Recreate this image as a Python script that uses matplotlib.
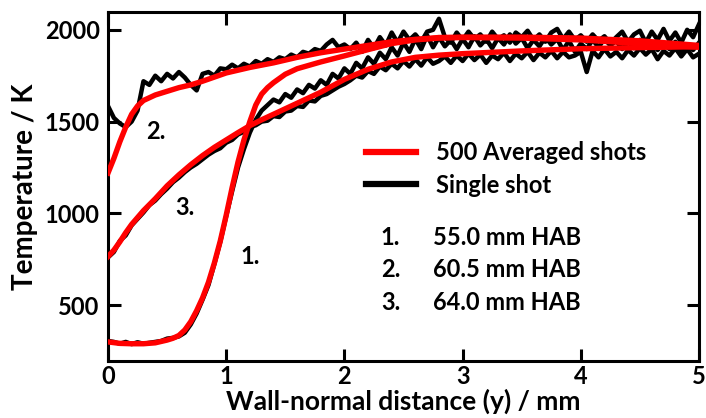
import matplotlib
matplotlib.use("Agg")
import matplotlib.pyplot as plt
from matplotlib.lines import Line2D

plt.rcParams['font.family'] = ['Lato', 'DejaVu Sans']

# ---------------- data ----------------
# averaged profiles (500 shots)
x_avg1 = [0.00, 0.10, 0.20, 0.30, 0.40, 0.50, 0.55, 0.60, 0.65, 0.70, 0.75, 0.80, 0.85, 0.90, 0.95,
          1.00, 1.05, 1.10, 1.15, 1.20, 1.25, 1.30, 1.35, 1.40, 1.50, 1.60, 1.80, 2.00, 2.20, 2.40,
          2.60, 2.80, 3.00, 3.50, 4.00, 4.50, 5.00]
T_avg1 = [300, 292, 290, 290, 295, 310, 320, 335, 365, 410, 470, 540, 625, 730, 850,
          990, 1140, 1280, 1400, 1500, 1590, 1650, 1685, 1712, 1758, 1788, 1825, 1858, 1892, 1925,
          1945, 1955, 1958, 1955, 1945, 1925, 1905]

x_avg2 = [0.00, 0.05, 0.10, 0.15, 0.20, 0.25, 0.30, 0.40, 0.50, 0.60, 0.70, 0.80, 1.00, 1.20, 1.40,
          1.60, 1.80, 2.00, 2.20, 2.40, 2.60, 2.80, 3.00, 3.50, 4.00, 4.50, 5.00]
T_avg2 = [1220, 1300, 1390, 1470, 1540, 1585, 1615, 1645, 1665, 1685, 1700, 1720, 1765, 1795, 1820,
          1850, 1875, 1895, 1915, 1935, 1948, 1958, 1960, 1960, 1955, 1940, 1915]

x_avg3 = [0.00, 0.05, 0.10, 0.15, 0.20, 0.30, 0.40, 0.50, 0.60, 0.70, 0.80, 0.90, 1.00, 1.10, 1.20,
          1.30, 1.40, 1.50, 1.60, 1.70, 1.80, 1.90, 2.00, 2.20, 2.40, 2.60, 2.80, 3.00, 3.50, 4.00,
          4.50, 5.00]
T_avg3 = [765, 800, 845, 895, 940, 1015, 1080, 1150, 1210, 1265, 1315, 1360, 1400, 1440, 1478,
          1510, 1540, 1570, 1600, 1630, 1660, 1695, 1730, 1785, 1825, 1850, 1862, 1870, 1885, 1897,
          1903, 1908]

# single-shot profiles, sampled every 0.05 mm from 0 to 5 mm
x_single = [round(0.05 * i, 2) for i in range(101)]
T_single1 = [305, 300, 290, 300, 288, 298, 290, 295, 300, 305,
             318, 322, 330, 350, 395, 455, 530, 610, 725, 845,
             985, 1120, 1250, 1350, 1440, 1510, 1560, 1590, 1620, 1605,
             1650, 1630, 1675, 1655, 1700, 1680, 1725, 1700, 1760, 1735,
             1790, 1760, 1820, 1790, 1850, 1815, 1875, 1840, 1905, 1860,
             1930, 1880, 1950, 1895, 1970, 1905, 1960, 1910, 1945, 1895,
             1950, 1905, 1965, 1915, 1950, 1900, 1955, 1920, 1975, 1925,
             1955, 1900, 1945, 1910, 1960, 1920, 1950, 1890, 1940, 1880,
             1925, 1895, 1945, 1905, 1950, 1915, 1940, 1895, 1935, 1900,
             1945, 1905, 1930, 1890, 1925, 1895, 1935, 1880, 1920, 1890,
             1930]
T_single2 = [1585, 1520, 1490, 1470, 1500, 1560, 1720, 1700, 1750, 1720,
             1760, 1735, 1770, 1740, 1700, 1670, 1760, 1770, 1750, 1790,
             1785, 1810, 1790, 1815, 1800, 1830, 1815, 1840, 1825, 1850,
             1840, 1865, 1850, 1880, 1870, 1895, 1885, 1920, 1945, 1905,
             1920, 1895, 1930, 1880, 1945, 1900, 1960, 1915, 1985, 1930,
             1990, 1945, 1975, 1935, 1990, 2000, 2060, 1960, 1930, 1985,
             1945, 1990, 1950, 1975, 1935, 1990, 1950, 1970, 1930, 1985,
             1960, 1995, 1945, 1975, 1935, 1985, 2005, 1950, 1990, 1945,
             1970, 1935, 1975, 1940, 1965, 1925, 1960, 1990, 1935, 1975,
             1995, 1930, 1990, 1945, 2005, 1940, 1985, 1930, 2000, 1960,
             2030]
T_single3 = [760, 790, 850, 880, 935, 970, 1005, 1045, 1070, 1105,
             1135, 1170, 1195, 1225, 1250, 1270, 1295, 1320, 1340, 1355,
             1385, 1400, 1430, 1445, 1470, 1480, 1500, 1505, 1530, 1525,
             1555, 1560, 1585, 1580, 1615, 1610, 1640, 1650, 1670, 1690,
             1705, 1725, 1750, 1740, 1775, 1760, 1800, 1780, 1815, 1790,
             1830, 1800, 1840, 1805, 1850, 1815, 1830, 1855, 1820, 1860,
             1830, 1870, 1835, 1865, 1820, 1860, 1840, 1875, 1830, 1870,
             1845, 1880, 1835, 1875, 1850, 1885, 1845, 1880, 1850, 1860,
             1880, 1770, 1885, 1850, 1895, 1855, 1880, 1845, 1890, 1860,
             1900, 1865, 1895, 1840, 1885, 1860, 1900, 1855, 1895, 1850,
             1870]

curve_labels = ["1.", "2.", "3."]
hab_labels = ["55.0 mm HAB", "60.5 mm HAB", "64.0 mm HAB"]
legend_labels = ["500 Averaged shots", "Single shot"]
x_ticks = [0, 1, 2, 3, 4, 5]
y_ticks = [500, 1000, 1500, 2000]

# ---------------- figure ----------------
fig = plt.figure(figsize=(7.06, 4.18), dpi=100)
ax = fig.add_axes([108/706, 57/418, 591/706, 349/418])

for Ts in (T_single1, T_single2, T_single3):
    ax.plot(x_single, Ts, color='black', lw=3.2, solid_joinstyle='round', zorder=2)
for xa, Ta in ((x_avg1, T_avg1), (x_avg2, T_avg2), (x_avg3, T_avg3)):
    ax.plot(xa, Ta, color='#ff0000', lw=3.9, solid_joinstyle='round', zorder=3)

ax.set_xlim(0, 5)
ax.set_ylim(196, 2097)
ax.set_xticks(x_ticks)
ax.set_yticks(y_ticks)
ax.tick_params(direction='in', length=9, width=2.2, top=True, right=True,
               labelsize=17, pad=6)
ax.tick_params(axis='x', pad=3)
for lab in ax.get_xticklabels() + ax.get_yticklabels():
    lab.set_fontweight('bold')
for s in ax.spines.values():
    s.set_linewidth(2.2)

ax.set_xlabel("Wall-normal distance (y) / mm", fontsize=19, fontweight='bold', labelpad=0)
ax.set_ylabel("Temperature / K", fontsize=20, fontweight='bold', labelpad=5)

# curve labels
ax.text(0.406, 1444, curve_labels[1], fontsize=17, fontweight='bold', ha='center', va='center')
ax.text(0.65, 1031, curve_labels[2], fontsize=17, fontweight='bold', ha='center', va='center')
ax.text(1.20, 766, curve_labels[0], fontsize=17, fontweight='bold', ha='center', va='center')

# HAB annotation
hab_T = [869, 696, 517]
for cl, hl, T in zip(curve_labels, hab_labels, hab_T):
    ax.text(2.39, T, cl, fontsize=17, fontweight='bold', ha='center', va='center')
    ax.text(2.75, T, hl, fontsize=17, fontweight='bold', ha='left', va='center')

handles = [Line2D([], [], color='#ff0000', lw=4.5), Line2D([], [], color='black', lw=4.5)]
leg = ax.legend(handles, legend_labels, loc='upper left', bbox_to_anchor=(0.437, 0.63),
                frameon=False, handlelength=2.1, handletextpad=0.85, labelspacing=0.4,
                prop={'size': 17, 'weight': 'bold'}, borderaxespad=0, borderpad=0)

fig.savefig("out.png", dpi=100)
